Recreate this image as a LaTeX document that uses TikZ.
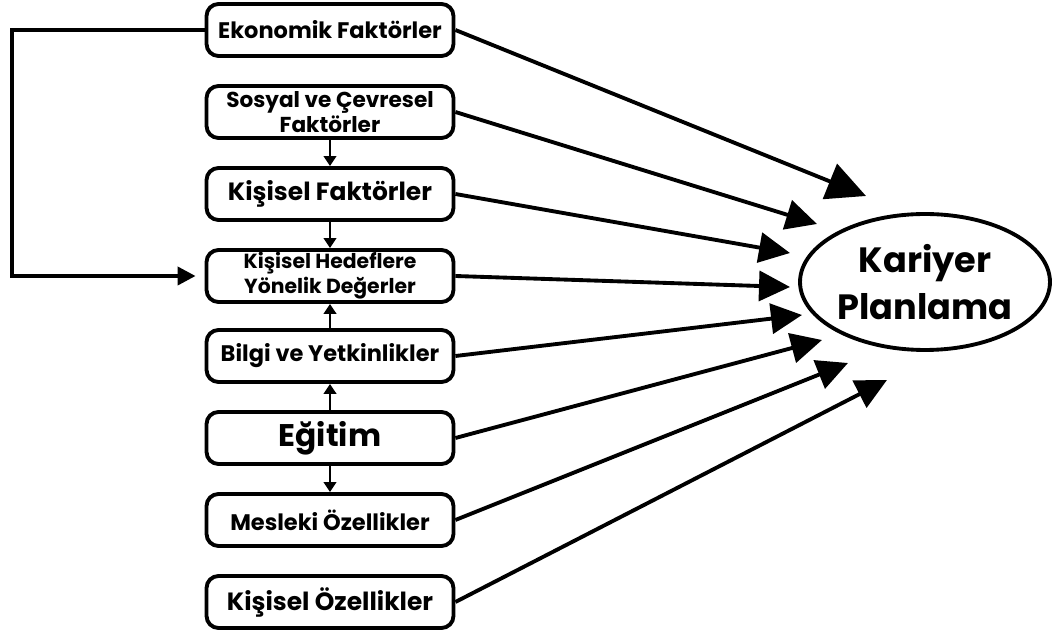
\documentclass[tikz,border=0pt]{standalone}
\usepackage{fontspec}
\setmainfont{Poppins}
\usetikzlibrary{arrows.meta, shapes.geometric}
\tikzset{kutu/.style = {draw, line width=2.2pt, rounded corners=0.24cm, minimum width=4.94cm, minimum height=1.04cm, inner sep=0pt, align=center, font=\bfseries\fontsize{12.8}{14}\selectfont}}
\tikzset{buyukyazi/.style = {font=\bfseries\fontsize{14.2}{16}\selectfont}}
\tikzset{ok/.style = {line width=2.2pt, -{Triangle[length=0.62cm, width=0.6cm]}}}
\tikzset{kucukok/.style = {line width=1.6pt, -{Triangle[length=0.2cm, width=0.25cm]}}}

\begin{document}
\begin{tikzpicture}[x=0.02cm, y=-0.02cm]
\useasboundingbox (0,0) rectangle (1059,634);
% kutular
\node[kutu] (ekonomik) at (330,30) {Ekonomik Faktörler};
\node[kutu, font=\bfseries\fontsize{12.3}{14.2}\selectfont] (sosyal) at (330,112) {Sosyal ve Çevresel\\Faktörler};
\node[kutu, buyukyazi] (kisisel) at (330,194) {Kişisel Faktörler};
\node[kutu, font=\bfseries\fontsize{11.6}{14.2}\selectfont] (hedef) at (330,276) {Kişisel Hedeflere\\Yönelik Değerler};
\node[kutu] (bilgi) at (330,356) {Bilgi ve Yetkinlikler};
\node[kutu, font=\bfseries\fontsize{17.8}{20}\selectfont] (egitim) at (330,438) {Eğitim};
\node[kutu] (mesleki) at (330,520) {Mesleki Özellikler};
\node[kutu, buyukyazi] (ozellik) at (330,602) {Kişisel Özellikler};
% kariyer
\node[draw, ellipse, line width=2.2pt, minimum width=5cm, minimum height=2.72cm, inner sep=0pt, align=center, font=\bfseries\fontsize{20}{26.5}\selectfont] (kariyer) at (925,282) {Kariyer\\Planlama};
% ok uclari
\coordinate (t1) at (866,196);
\coordinate (t2) at (817,224);
\coordinate (t3) at (790,253);
\coordinate (t4) at (790,287);
\coordinate (t5) at (802,315);
\coordinate (t6) at (822,340);
\coordinate (t7) at (848,363);
\coordinate (t8) at (887,380);
\draw[ok, -{Triangle[length=0.78cm, width=0.75cm]}] (ekonomik.east) -- (t1);
\draw[ok] (sosyal.east) -- (t2);
\draw[ok] (kisisel.east) -- (t3);
\draw[ok] (hedef.east) -- (t4);
\draw[ok] (bilgi.east) -- (t5);
\draw[ok] (egitim.east) -- (t6);
\draw[ok] (mesleki.east) -- (t7);
\draw[ok] (ozellik.east) -- (t8);
% dikey oklar
\draw[kucukok] (sosyal.south) -- (kisisel.north);
\draw[kucukok] (kisisel.south) -- (hedef.north);
\draw[kucukok] (bilgi.north) -- (hedef.south);
\draw[kucukok] (egitim.north) -- (bilgi.south);
\draw[kucukok] (egitim.south) -- (mesleki.north);
% geri besleme
\coordinate (sol) at (12,30);
\draw[ok, -{Triangle[length=0.36cm, width=0.36cm]}, shorten >=0.18cm] (ekonomik.west) -- (sol) |- (hedef.west);
\end{tikzpicture}
\end{document}
